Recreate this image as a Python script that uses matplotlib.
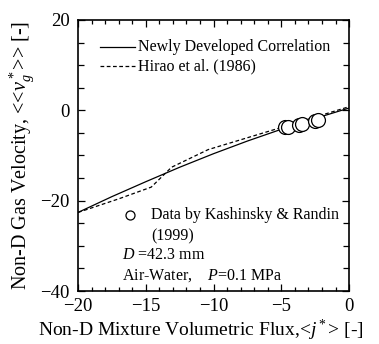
import matplotlib
matplotlib.use("Agg")
import matplotlib.pyplot as plt
from matplotlib.ticker import MultipleLocator

plt.rcParams['font.family'] = ['Liberation Serif', 'DejaVu Serif']
plt.rcParams['mathtext.fontset'] = 'custom'
plt.rcParams['mathtext.rm'] = 'Liberation Serif'
plt.rcParams['mathtext.it'] = 'Liberation Serif:italic'

# Newly developed correlation
corr_x = [-20, -17.5, -15, -12.5, -10, -7.5, -5, -2.5, 0]
corr_y = [-22.6, -19.1, -15.8, -12.6, -9.6, -6.8, -4.2, -1.8, 0.5]

# Hirao et al. (1986)
hirao_x = [-20, -17, -14.6, -13.1, -10.4, -5, 0]
hirao_y = [-22.6, -19.6, -17.0, -12.6, -8.7, -3.8, 0.8]

# Data by Kashinsky & Randin (1999)
data_x = [-4.7, -4.5, -3.7, -3.5, -2.5, -2.3]
data_y = [-3.8, -3.6, -3.2, -3.0, -2.4, -2.2]

fig = plt.figure(figsize=(3.79, 3.44), dpi=100)
ax = fig.add_axes([0.206, 0.154, 0.715, 0.788])

ax.plot(corr_x, corr_y, '-', color='black', lw=0.9)
ax.plot(hirao_x, hirao_y, '--', color='black', lw=0.9, dashes=(3, 2))
ax.plot(data_x, data_y, 'o', mfc='white', mec='black', ms=10, mew=0.9)

ax.set_xlim(-20, 0)
ax.set_ylim(-40, 20)
ax.xaxis.set_major_locator(MultipleLocator(5))
ax.xaxis.set_minor_locator(MultipleLocator(1))
ax.yaxis.set_major_locator(MultipleLocator(20))
ax.yaxis.set_minor_locator(MultipleLocator(5))
ax.tick_params(which='both', direction='in', top=True, right=True, labelsize=13.5, width=0.9, pad=6)
ax.tick_params(axis='x', which='both', pad=5)
ax.tick_params(which='major', length=5)
ax.tick_params(which='minor', length=3)
ax.tick_params(axis='y', which='minor', length=4.5)
for s in ax.spines.values():
    s.set_linewidth(1.2)

ax.set_xlabel(r"Non-D Mixture Volumetric Flux,<$j^*$> [-]", fontsize=14)
ax.xaxis.set_label_coords(0.452, -0.1)
ax.set_ylabel(r"Non-D Gas Velocity, <<$\nu_g^*$>> [-]", fontsize=14.5, labelpad=3)

# legend (manual)
ax.plot([-18.4, -15.8], [14.0, 14.0], '-', color='black', lw=0.9)
ax.text(-15.6, 14.0, "Newly Developed Correlation", fontsize=11.5, va='center')
ax.plot([-18.4, -15.8], [9.8, 9.8], '--', color='black', lw=0.9, dashes=(3, 2))
ax.text(-15.6, 9.8, "Hirao et al. (1986)", fontsize=11.5, va='center')

ax.plot([-16.2], [-23.2], 'o', mfc='white', mec='black', ms=6.5, mew=0.9)
ax.text(-14.6, -23.2, "Data by Kashinsky & Randin", fontsize=11.5, va='center')
ax.text(-14.6, -27.8, "(1999)", fontsize=11.5, va='center')
ax.text(-16.75, -32.0, r"$D$ =42.3 mm", fontsize=11.5, va='center')
ax.text(-16.75, -36.7, r"Air-Water,    $P$=0.1 MPa", fontsize=11.5, va='center')

fig.savefig("out.png", dpi=100)
